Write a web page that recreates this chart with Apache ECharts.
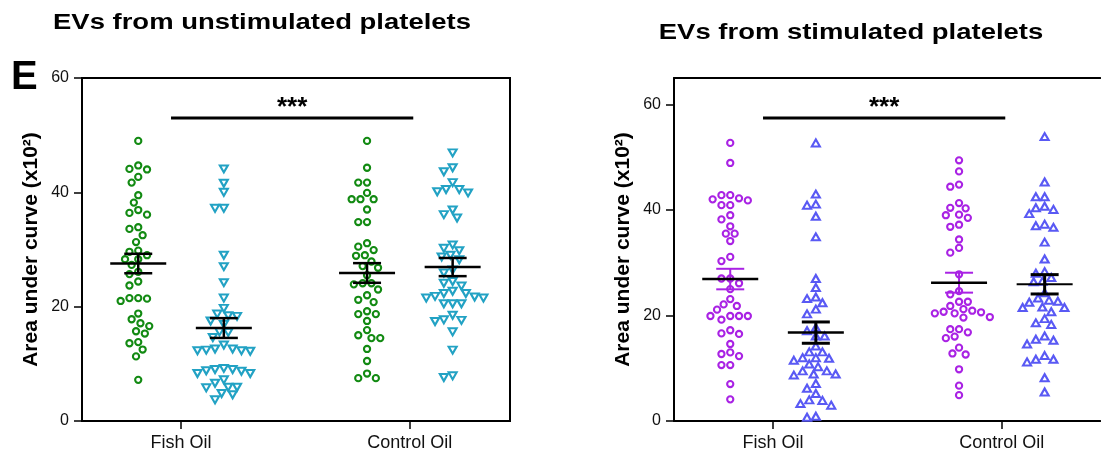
<!DOCTYPE html>
<html>
<head>
<meta charset="utf-8">
<script src="https://cdn.jsdelivr.net/npm/echarts@6/dist/echarts.min.js"></script>
<style>
  body { margin: 0; background: #fff; }
  #chart { width: 1101px; height: 461px; }
</style>
</head>
<body>
<div id="chart"></div>
<script>
// ---- data ----
const categories = ['Fish Oil', 'Control Oil'];
const yTicks = [0, 20, 40, 60];
const sigLabel = '***';

// EVs from unstimulated platelets
const unstimFishCircle = [49.0, 44.7, 44.0, 44.1, 42.7, 41.7, 39.5, 38.2, 36.9, 36.1, 36.4, 33.6, 33.9, 32.5,
  31.3, 29.8, 29.6, 29.0, 28.3, 28.3, 27.3, 26.1, 25.7, 24.4, 23.7, 21.5, 21.5, 21.0, 21.4, 18.8, 17.8, 17.1,
  16.6, 15.7, 15.3, 13.8, 13.6, 12.5, 11.3, 7.2];
const unstimFishTri = [44.1, 41.6, 40.0, 37.2, 37.2, 29.0, 27.0, 24.2, 21.5, 19.7, 18.7, 18.4, 18.3, 17.5, 16.9,
  15.5, 15.6, 14.6, 13.3, 12.4, 12.6, 12.2, 12.3, 12.3, 12.6, 8.7, 9.0, 9.0, 9.2, 8.3, 8.3, 8.8, 7.2, 6.6, 5.9,
  5.8, 5.9, 4.8, 4.6, 3.7];
const unstimCtrlCircle = [49.0, 44.3, 41.7, 41.7, 39.9, 38.8, 38.8, 38.8, 37.0, 34.8, 34.8, 31.1, 29.9, 30.5,
  29.0, 28.9, 27.9, 27.1, 26.8, 25.5, 23.9, 24.1, 24.1, 23.0, 22.0, 21.2, 20.8, 19.2, 18.7, 18.7, 17.5, 15.9,
  15.0, 14.5, 14.5, 12.6, 10.5, 8.3, 7.5, 7.5];
const unstimCtrlTri = [46.9, 44.3, 43.6, 41.7, 40.1, 40.5, 39.9, 40.5, 36.9, 35.5, 36.1, 30.8, 29.8, 30.2, 29.0,
  28.7, 28.2, 26.4, 25.9, 24.4, 24.1, 23.6, 22.3, 22.7, 22.3, 21.7, 21.8, 21.5, 21.5, 20.5, 20.5, 20.5, 18.5,
  17.7, 17.6, 17.4, 15.6, 12.4, 7.6, 7.9];

// EVs from stimulated platelets
const stimFishCircle = [52.7, 48.9, 42.0, 41.8, 42.8, 42.2, 42.8, 40.9, 40.9, 39.0, 38.2, 36.9, 35.5, 35.5, 34.1,
  31.1, 30.3, 27.0, 27.0, 26.1, 25.0, 23.1, 22.1, 21.8, 21.1, 19.9, 19.9, 19.9, 19.9, 19.2, 17.2, 16.6, 16.5,
  14.6, 13.0, 12.7, 12.3, 10.6, 10.6, 7.0, 4.1];
const stimFishTri = [52.7, 43.0, 41.1, 40.9, 38.8, 34.9, 27.0, 25.3, 23.5, 23.2, 22.4, 21.2, 20.3, 17.7, 17.1,
  16.1, 16.1, 14.2, 13.1, 13.1, 11.9, 12.0, 11.5, 12.0, 10.8, 10.3, 9.5, 9.5, 8.9, 8.7, 8.9, 7.1, 5.2, 6.2, 4.0,
  3.9, 3.3, 3.0, 0.7, 0.9];
const stimCtrlCircle = [49.4, 47.3, 44.8, 44.4, 41.3, 40.3, 40.4, 39.0, 38.5, 39.1, 36.8, 37.2, 34.4, 32.8, 31.9,
  27.8, 24.6, 24.0, 22.6, 22.6, 21.8, 21.2, 20.7, 20.9, 20.4, 20.4, 20.6, 19.7, 19.6, 17.4, 17.4, 16.8, 16.0,
  15.7, 13.9, 12.8, 12.6, 9.8, 6.7, 4.9];
const stimCtrlTri = [53.9, 45.3, 42.5, 42.5, 40.7, 40.1, 40.4, 39.3, 36.7, 37.3, 37.0, 33.9, 30.7, 28.3, 28.0,
  27.2, 26.4, 26.5, 24.3, 23.3, 22.7, 22.9, 22.5, 21.6, 21.5, 21.5, 20.7, 19.4, 18.6, 18.3, 16.1, 15.5, 15.3,
  14.6, 11.7, 11.2, 11.7, 12.4, 8.2, 5.5];

// ---- layout ----
const FONT = '"Liberation Sans", Arial, sans-serif';
const PX_PER_X = 85.6;          // px per x unit, same in both panels
const CAT_POS = [1.157, 3.83];  // x position of category ticks
const GROUP_OFF = 0.5;          // circles left, triangles right of the tick
const PLOT_H = 343;
const STEP = 2.2;               // swarm sideways search step, px
const MIN_D = 8.4;              // min distance between marker centres, px

const GREEN = '#128a12', CYAN = '#22a2c4', PURPLE = '#a922e4', BLUE = '#5959f4';

// simple beeswarm: spread points sideways so markers do not overlap
function swarm(values, center, pxPerY) {
  const sorted = values.slice().sort((a, b) => b - a);
  const placed = [];
  return sorted.map(v => {
    const py = v * pxPerY;
    let off = 0;
    for (let n = 0; n < 80; n++) {
      const k = n === 0 ? 0 : (n % 2 ? -Math.ceil(n / 2) : Math.ceil(n / 2));
      const ox = k * STEP;
      const hit = placed.some(q => (q.x - ox) ** 2 + (q.y - py) ** 2 < MIN_D * MIN_D);
      if (!hit) { off = ox; break; }
    }
    placed.push({x: off, y: py});
    return [center + off / PX_PER_X, v];
  });
}

function meanSem(arr) {
  const n = arr.length;
  const m = arr.reduce((a, b) => a + b, 0) / n;
  const sd = Math.sqrt(arr.reduce((a, b) => a + (b - m) ** 2, 0) / (n - 1));
  return [m, sd / Math.sqrt(n)];
}

const panels = [
  {
    title: 'EVs from unstimulated platelets', titleX: 262, titleY: 23,
    left: 82, xMax: 5, yMax: 60, sigY: 53, box: true,
    groups: [
      {data: unstimFishCircle, cat: 0, side: -1, color: GREEN, symbol: 'circle', rot: 0, whisker: '#000', wW: 2.5, mW: 2.5},
      {data: unstimFishTri, cat: 0, side: 1, color: CYAN, symbol: 'triangle', rot: 180, whisker: '#000', wW: 2.5, mW: 2.5},
      {data: unstimCtrlCircle, cat: 1, side: -1, color: GREEN, symbol: 'circle', rot: 0, whisker: '#000', wW: 2.5, mW: 2.5},
      {data: unstimCtrlTri, cat: 1, side: 1, color: CYAN, symbol: 'triangle', rot: 180, whisker: '#000', wW: 2.5, mW: 2.5}
    ]
  },
  {
    title: 'EVs from stimulated platelets', titleX: 851, titleY: 33,
    left: 674, xMax: 4.98, yMax: 65, sigY: 57.4, box: false,
    groups: [
      {data: stimFishCircle, cat: 0, side: -1, color: PURPLE, symbol: 'circle', rot: 0, whisker: PURPLE, wW: 2, mW: 2.5},
      {data: stimFishTri, cat: 0, side: 1, color: BLUE, symbol: 'triangle', rot: 0, whisker: '#000', wW: 3, mW: 2.5},
      {data: stimCtrlCircle, cat: 1, side: -1, color: PURPLE, symbol: 'circle', rot: 0, whisker: PURPLE, wW: 2, mW: 2.5},
      {data: stimCtrlTri, cat: 1, side: 1, color: BLUE, symbol: 'triangle', rot: 0, whisker: '#000', wW: 3, mW: 2}
    ]
  }
];

const grid = [], xAxis = [], yAxis = [], series = [], graphic = [];

panels.forEach((p, pi) => {
  grid.push({
    left: p.left, top: 78, width: p.xMax * PX_PER_X, height: PLOT_H,
    show: p.box, borderColor: '#000', borderWidth: 2, backgroundColor: 'transparent'
  });
  graphic.push({
    type: 'text', x: p.titleX, y: p.titleY, scaleX: 1.22,
    style: {text: p.title, fill: '#000', font: 'bold 22.5px ' + FONT, align: 'center', verticalAlign: 'middle'}
  });
  xAxis.push({
    type: 'value', gridIndex: pi, min: 0, max: p.xMax,
    splitLine: {show: false},
    axisLine: {lineStyle: {color: '#000', width: 2}},
    axisTick: {customValues: CAT_POS, length: 8, lineStyle: {color: '#000', width: 1.5}},
    axisLabel: {
      customValues: CAT_POS, margin: 13, color: '#111', fontFamily: FONT, fontSize: 18,
      formatter: v => categories[CAT_POS.indexOf(v)] || ''
    }
  });
  yAxis.push({
    type: 'value', gridIndex: pi, min: 0, max: p.yMax, interval: 20,
    name: 'Area under curve (x10²)', nameLocation: 'middle', nameGap: 40,
    nameTextStyle: {fontFamily: FONT, fontWeight: 'bold', fontSize: 21, color: '#000'},
    splitLine: {show: false},
    axisLine: {show: true, lineStyle: {color: '#000', width: 2}},
    axisTick: {show: true, customValues: yTicks, length: 8, lineStyle: {color: '#000', width: 1.5}},
    axisLabel: {customValues: yTicks, margin: 13, color: '#111', fontFamily: FONT, fontSize: 16}
  });

  const pxPerY = PLOT_H / p.yMax;
  const bars = [];
  p.groups.forEach(g => {
    const center = CAT_POS[g.cat] + g.side * GROUP_OFF;
    series.push({
      type: 'scatter', xAxisIndex: pi, yAxisIndex: pi, z: 2,
      symbol: g.symbol, symbolRotate: g.rot,
      symbolSize: g.symbol === 'circle' ? 6.2 : [8, 7],
      itemStyle: {color: 'transparent', borderColor: g.color, borderWidth: 2.1, opacity: 1},
      data: swarm(g.data, center, pxPerY)
    });
    const [m, s] = meanSem(g.data);
    bars.push([center, m, s]);
  });

  // mean +- SEM
  series.push({
    type: 'custom', xAxisIndex: pi, yAxisIndex: pi, z: 5,
    data: bars,
    renderItem: (params, api) => {
      const g = p.groups[params.dataIndex];
      const x = api.value(0), m = api.value(1), s = api.value(2);
      const c = api.coord([x, m]), hi = api.coord([x, m + s]), lo = api.coord([x, m - s]);
      const line = (x1, y1, x2, y2, color, w) => ({
        type: 'line', shape: {x1, y1, x2, y2}, style: {stroke: color, lineWidth: w}
      });
      return {
        type: 'group', children: [
          line(c[0], hi[1], c[0], lo[1], g.whisker, g.wW),
          line(c[0] - 14, hi[1], c[0] + 14, hi[1], g.whisker, g.wW),
          line(c[0] - 14, lo[1], c[0] + 14, lo[1], g.whisker, g.wW),
          line(c[0] - 28, c[1], c[0] + 28, c[1], '#000', g.mW)
        ]
      };
    }
  });

  // significance bracket
  series.push({
    type: 'custom', xAxisIndex: pi, yAxisIndex: pi, z: 5,
    data: [[1.04, 3.87, p.sigY]],
    renderItem: (params, api) => {
      const a = api.coord([api.value(0), api.value(2)]);
      const b = api.coord([api.value(1), api.value(2)]);
      return {
        type: 'group', children: [
          {type: 'line', shape: {x1: a[0], y1: a[1], x2: b[0], y2: b[1]}, style: {stroke: '#000', lineWidth: 3}},
          {type: 'text', x: (a[0] + b[0]) / 2, y: a[1] - 10,
            style: {text: sigLabel, fill: '#000', font: 'bold 26px ' + FONT, align: 'center', verticalAlign: 'middle'}}
        ]
      };
    }
  });
});

// right panel: top frame line only, the rest runs off the page
xAxis.push({
  type: 'value', gridIndex: 1, position: 'top', min: 0, max: panels[1].xMax,
  axisLine: {show: true, onZero: false, lineStyle: {color: '#000', width: 2}},
  axisTick: {show: false}, axisLabel: {show: false}, splitLine: {show: false}
});

graphic.push({
  type: 'text', left: 11, top: 58,
  style: {text: 'E', fill: '#000', font: 'bold 40px ' + FONT}
});

const chart = echarts.init(document.getElementById('chart'));
chart.setOption({
  animation: false,
  backgroundColor: '#fff',
  grid: grid,
  xAxis: xAxis,
  yAxis: yAxis,
  series: series,
  graphic: graphic
});
</script>
</body>
</html>
